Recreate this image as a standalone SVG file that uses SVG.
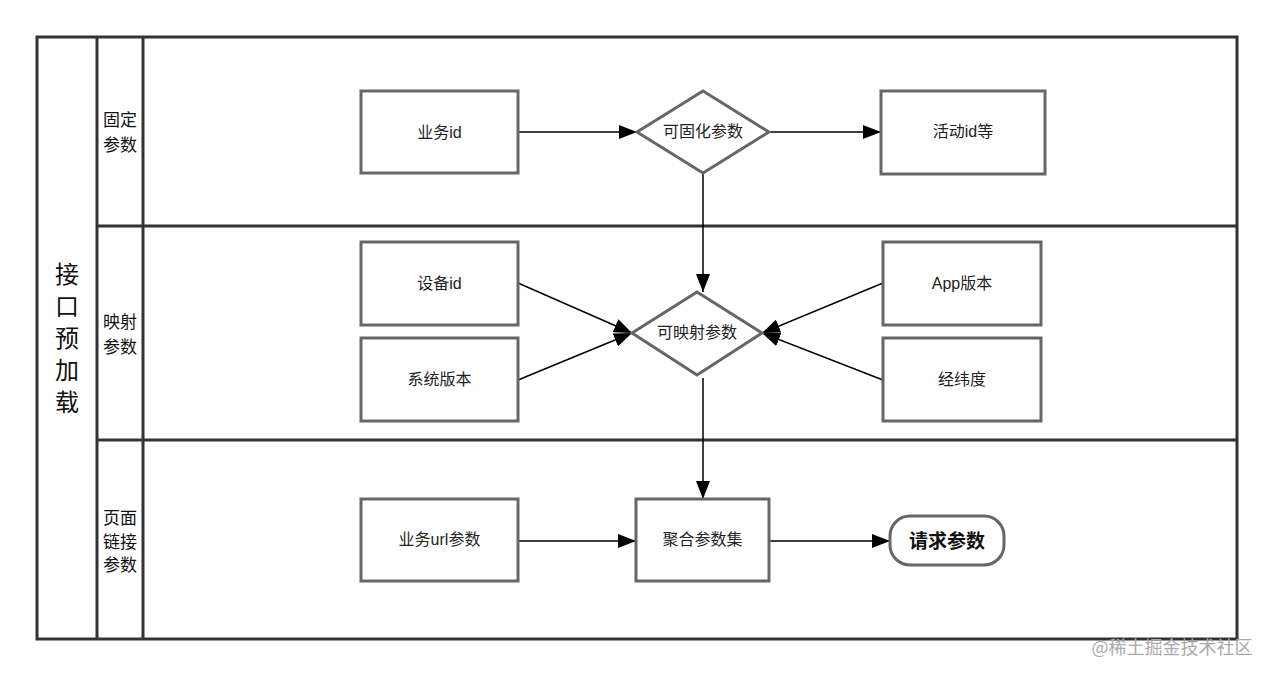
<svg xmlns="http://www.w3.org/2000/svg" width="1273" height="676" viewBox="0 0 1273 676">
<defs>
<marker id="ah" markerWidth="20" markerHeight="14" refX="18" refY="7" orient="auto" markerUnits="userSpaceOnUse"><path d="M0,0 L18,7 L0,14 Z" fill="#000"/></marker>
<style>
.lane{fill:none;stroke:#333;stroke-width:3}
.box{fill:#fff;stroke:#666;stroke-width:3}
.t{font-family:"Liberation Sans","Noto Sans CJK SC",sans-serif;font-size:16px;fill:#222;text-anchor:middle;dominant-baseline:central}
.lt{font-family:"Liberation Sans","Noto Sans CJK SC",sans-serif;font-size:17px;fill:#111;text-anchor:middle;dominant-baseline:central}
.c{fill:none;stroke:#000;stroke-width:1.5;marker-end:url(#ah)}
</style>
</defs>
<rect width="1273" height="676" fill="#fff"/>
<g id="pool">
<rect class="lane" x="37" y="37" width="1200" height="602"/>
<line class="lane" x1="97" y1="37" x2="97" y2="639"/>
<line class="lane" x1="143" y1="37" x2="143" y2="639"/>
<line class="lane" x1="97" y1="226" x2="1237" y2="226"/>
<line class="lane" x1="97" y1="440" x2="1237" y2="440"/>
<text class="lt" style="font-size:24px" x="67" y="274">接</text>
<text class="lt" style="font-size:24px" x="67" y="306">口</text>
<text class="lt" style="font-size:24px" x="67" y="338">预</text>
<text class="lt" style="font-size:24px" x="67" y="370">加</text>
<text class="lt" style="font-size:24px" x="67" y="402">载</text>
<text class="lt" x="120" y="120">固定</text>
<text class="lt" x="120" y="145">参数</text>
<text class="lt" x="120" y="322">映射</text>
<text class="lt" x="120" y="347">参数</text>
<text class="lt" x="120" y="518">页面</text>
<text class="lt" x="120" y="542">链接</text>
<text class="lt" x="120" y="565">参数</text>
</g>
<g id="connectors">
<line class="c" x1="518" y1="132" x2="637" y2="132"/>
<line class="c" x1="769" y1="132" x2="881" y2="132"/>
<line class="c" x1="703" y1="173" x2="703" y2="292"/>
<line class="c" x1="518" y1="283" x2="632" y2="333"/>
<line class="c" x1="518" y1="380" x2="632" y2="333"/>
<line class="c" x1="883" y1="283" x2="762" y2="333"/>
<line class="c" x1="883" y1="380" x2="762" y2="333"/>
<line class="c" x1="703" y1="378" x2="703" y2="499"/>
<line class="c" x1="518" y1="541" x2="636" y2="541"/>
<line class="c" x1="769" y1="541" x2="890" y2="541"/>
</g>
<g id="n1"><rect class="box" x="361" y="91" width="157" height="82"/><text class="t" x="439.5" y="132">业务id</text></g>
<g id="n2"><polygon class="box" points="703,91 769,132 703,173 637,132"/><text class="t" x="703" y="131">可固化参数</text></g>
<g id="n3"><rect class="box" x="881" y="91" width="164" height="83"/><text class="t" x="963" y="131">活动id等</text></g>
<g id="n4"><rect class="box" x="361" y="242" width="157" height="83"/><text class="t" x="439.5" y="283">设备id</text></g>
<g id="n5"><rect class="box" x="361" y="338" width="157" height="83"/><text class="t" x="439.5" y="379">系统版本</text></g>
<g id="n6"><polygon class="box" points="697,292 762,333 697,375 632,333"/><text class="t" x="697" y="332">可映射参数</text></g>
<g id="n7"><rect class="box" x="883" y="242" width="158" height="83"/><text class="t" x="962" y="283">App版本</text></g>
<g id="n8"><rect class="box" x="883" y="338" width="158" height="83"/><text class="t" x="962" y="379">经纬度</text></g>
<g id="n9"><rect class="box" x="361" y="499" width="157" height="82"/><text class="t" x="439.5" y="539">业务url参数</text></g>
<g id="n10"><rect class="box" x="636" y="499" width="133" height="82"/><text class="t" x="702.5" y="539">聚合参数集</text></g>
<g id="n11"><rect class="box" x="890" y="516" width="114" height="49" rx="20" ry="20"/><text class="t" style="font-size:19px;font-weight:bold;fill:#111" x="947" y="541">请求参数</text></g>
<text x="1172" y="646" style="font-family:'Noto Sans CJK SC',sans-serif;font-size:18px;fill:#aaa;text-anchor:middle;dominant-baseline:central">@稀土掘金技术社区</text>
</svg>
